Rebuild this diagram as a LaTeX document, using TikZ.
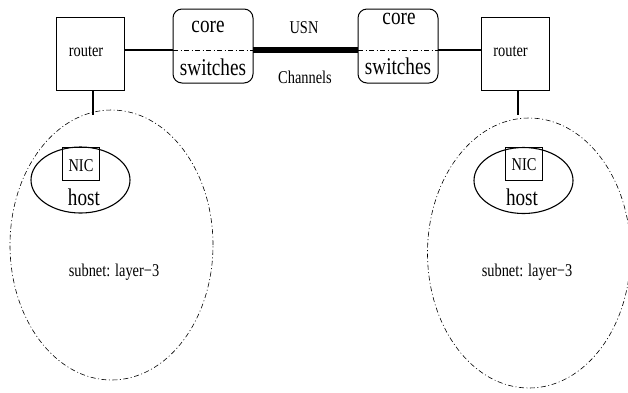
\documentclass[tikz,border=0pt]{standalone}
\usepackage{fontspec}
\usetikzlibrary{shapes.geometric}
\setmainfont[FakeStretch=0.8]{Liberation Serif}
\begin{document}
\begin{tikzpicture}[x=1pt,y=-1pt,
  box/.style={draw,line width=1pt,outer sep=0pt,inner sep=0pt},
  routerbox/.style={box,minimum width=68pt,minimum height=73pt},
  corebox/.style={box,rounded corners=9pt,minimum width=80pt,minimum height=74pt},
  nicbox/.style={draw,line width=0.7pt,outer sep=0pt,inner sep=0pt,minimum width=37pt,minimum height=33pt},
  hostoval/.style={draw,ellipse,line width=1.1pt,outer sep=0pt,inner sep=0pt,minimum width=99pt,minimum height=66pt},
  subnetoval/.style={draw,ellipse,line width=0.6pt,dash pattern=on 5pt off 2.5pt on 1pt off 2.5pt,outer sep=0pt,inner sep=0pt,minimum width=203pt,minimum height=270pt},
  small/.style={font=\fontsize{18}{18}\selectfont,inner sep=0pt},
  large/.style={font=\fontsize{24}{24}\selectfont,inner sep=0pt},
  mid/.style={line width=2.7pt},
  heavy/.style={line width=5.8pt},
  mesh/.style={line width=0.6pt,dash pattern=on 5pt off 2.5pt on 1pt off 2.5pt}]
\useasboundingbox (0,0) rectangle (628,392);
\begin{scope}
\clip (0,0) rectangle (628,392);
\node[subnetoval] (subL) at (111.5,245) {};
\node[subnetoval] (subR) at (529,253) {};
\end{scope}
\node[routerbox] (routerL) at (90,53.5) {};
\node[routerbox] (routerR) at (515,53.5) {};
\node[corebox] (coreL) at (213,46) {};
\node[corebox] (coreR) at (398,46) {};
\node[hostoval] (hostL) at (80.5,180) {};
\node[hostoval] (hostR) at (523.5,180.5) {};
\node[nicbox] (nicL) at (80.5,163.5) {};
\node[nicbox] (nicR) at (523.5,163.5) {};
\node[small] (tr1) at (86,52) {router};
\node[small] (tr2) at (510.5,52) {router};
\node[large] (tc1) at (208,27) {core};
\node[large] (ts1) at (213,67) {switches};
\node[large] (tc2) at (399,19) {core};
\node[large] (ts2) at (398,66) {switches};
\node[small] (usn) at (304,28) {USN};
\node[small] (chan) at (305,77) {Channels};
\node[small] (tn1) at (81,166) {NIC};
\node[small] (tn2) at (524,165) {NIC};
\node[large] (th1) at (84,197) {host};
\node[large] (th2) at (522,197) {host};
\node[small] (ts3) at (114,272) {subnet: layer−3};
\node[small] (ts4) at (527,272) {subnet: layer−3};
\draw[mid] ([yshift=3.5pt]routerL.east) -- ([yshift=-4pt]coreL.west);
\draw[mid] ([yshift=-4pt]coreR.east) -- ([yshift=3.5pt]routerR.west);
\draw[heavy] ([yshift=-4pt]coreL.east) -- ([yshift=-4pt]coreR.west);
\draw[mesh] ([yshift=-4pt]coreL.west) -- ([yshift=-4pt]coreL.east);
\draw[mesh] ([yshift=-4pt]coreR.west) -- ([yshift=-4pt]coreR.east);
\coordinate (downL) at (93,115);
\coordinate (downR) at (518,115);
\draw[mid] (routerL.south -| downL) -- (downL);
\draw[mid] (routerR.south -| downR) -- (downR);
\end{tikzpicture}
\end{document}
